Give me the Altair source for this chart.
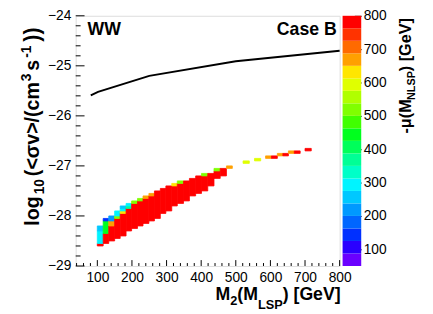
import altair as alt
import pandas as pd

FONT = "Liberation Sans"

# ---------------- data ----------------
# black curve
line_x = [81, 102, 250, 500, 800]
line_y = [-25.59, -25.52, -25.20, -24.91, -24.70]

# dense band: column edges (GeV), bottom / top of the red run (log10), coloured cells on top (mu, top)
band_edges = [99.9, 116.9, 133.0, 150.0, 166.0, 183.0, 199.0, 216.0, 232.0, 249.0, 265.0, 282.0,
              298.0, 315.0, 331.0, 349.0, 366.0, 384.0, 401.0, 419.0, 437.0, 455.0, 473.0, 490.0]
band_bottom = [-28.60, -28.55, -28.50, -28.45, -28.40, -28.30, -28.25, -28.20, -28.15, -28.10, -28.05, -27.95,
               -27.90, -27.80, -27.75, -27.70, -27.60, -27.55, -27.50, -27.40, -27.25, -27.20, -27.05]
band_red_top = [-28.55, -28.35, -28.20, -28.05, -27.95, -27.85, -27.75, -27.70, -27.65, -27.60, -27.50, -27.45,
                -27.40, -27.40, -27.35, -27.30, -27.25, -27.20, -27.20, -27.15, -27.10, -27.05, -27.05]
band_caps = [
    [(300, -28.30), (250, -28.20)],
    [(450, -28.10), (150, -28.05)],
    [(680, -28.10), (210, -28.00)],
    [(530, -28.00), (300, -27.90)],
    [(630, -27.90), (300, -27.85), (250, -27.80)],
    [(370, -27.80), (300, -27.75)],
    [(520, -27.70)],
    [(520, -27.65)],
    [(680, -27.60)],
    [(680, -27.55)],
    [], [], [],
    [(630, -27.35)],
    [(520, -27.30)],
    [], [], [],
    [(520, -27.15)],
    [],
    [(520, -27.05)],
    [],
    [(680, -27.00)],
]
RED_MU = 780

# isolated cells
sparse_x0 = [521, 554, 586, 603, 620, 636, 652, 669, 700]
sparse_x1 = [539, 572, 603, 620, 636, 652, 669, 686, 718]
sparse_y0 = [-26.95, -26.90, -26.85, -26.85, -26.80, -26.80, -26.75, -26.75, -26.70]
sparse_mu = [600, 600, 680, 780, 680, 780, 680, 780, 780]
CELL_H = 0.05

# axes
x_major = [100, 200, 300, 400, 500, 600, 700, 800]
x_minor = [40, 60, 80, 120, 140, 160, 180, 220, 240, 260, 280, 320, 340, 360, 380, 420, 440, 460, 480,
           520, 540, 560, 580, 620, 640, 660, 680, 720, 740, 760, 780]
y_major = [-29, -28, -27, -26, -25, -24]
y_minor = [-28.8, -28.6, -28.4, -28.2, -27.8, -27.6, -27.4, -27.2, -26.8, -26.6, -26.4, -26.2,
           -25.8, -25.6, -25.4, -25.2, -24.8, -24.6, -24.4, -24.2]
cb_ticks = [100, 200, 300, 400, 500, 600, 700, 800]

# colour palette (20 bands from 50 to 800)
palette = ["#6a00ff", "#2a00ff", "#0030ff", "#0066ff", "#0099ff", "#00c8ff", "#00f4ff", "#00ffc8",
           "#00ff96", "#00ff5a", "#00ff1e", "#40ff00", "#80ff00", "#b0ff00", "#e0ff00", "#ffe600",
           "#ffa000", "#ff6a00", "#ff3300", "#ff0000"]
cb_lo = [50, 87.5, 125, 162.5, 200, 237.5, 275, 312.5, 350, 387.5, 425, 462.5, 500, 537.5, 575,
         612.5, 650, 687.5, 725, 762.5]
cb_hi = [87.5, 125, 162.5, 200, 237.5, 275, 312.5, 350, 387.5, 425, 462.5, 500, 537.5, 575, 612.5,
         650, 687.5, 725, 762.5, 800]

# ---------------- build tables ----------------
rows = []
for k in range(len(band_bottom)):
    xa, xb = band_edges[k], band_edges[k + 1]
    if band_red_top[k] > band_bottom[k]:
        rows.append(dict(x0=xa, x1=xb, y0=band_bottom[k], y1=band_red_top[k], mu=RED_MU))
    lo = band_red_top[k]
    for mu, top in band_caps[k]:
        rows.append(dict(x0=xa, x1=xb, y0=lo, y1=top, mu=mu))
        lo = top
for a, b, y, m in zip(sparse_x0, sparse_x1, sparse_y0, sparse_mu):
    rows.append(dict(x0=a, x1=b, y0=y, y1=y + CELL_H, mu=m))
cells = pd.DataFrame(rows)

W_PLOT, H_PLOT = 269, 255
xs = alt.Scale(domain=[37.5, 800], nice=False, zero=False)
ys = alt.Scale(domain=[-29, -24], nice=False, zero=False)
cs = alt.Scale(type="quantize", domain=[50, 800], range=palette, nice=False)

X_AXIS = alt.Axis(values=x_major, ticks=False, domain=False, grid=False,
                  labelFont=FONT, labelFontSize=14, labelColor="black",
                  labelPadding=5, labelFlush=False, labelOverlap=False, title=None)

heat = alt.Chart(cells).mark_rect(strokeWidth=0.8).encode(
    x=alt.X("x0:Q", scale=xs, axis=X_AXIS),
    x2="x1:Q",
    y=alt.Y("y0:Q", scale=ys, axis=alt.Axis(values=y_major, ticks=False, domain=False, grid=False,
                                             labelFont=FONT, labelFontSize=14, labelColor="black",
                                             labelPadding=5, labelFlush=False, labelOverlap=False,
                                             title=None, format="d")),
    y2="y1:Q",
    color=alt.Color("mu:Q", scale=cs, legend=None),
    stroke=alt.Stroke("mu:Q", scale=cs, legend=None),
)

curve = alt.Chart(pd.DataFrame({"m": line_x, "v": line_y})).mark_line(color="black", strokeWidth=2).encode(
    x=alt.X("m:Q", scale=xs, axis=X_AXIS), y=alt.Y("v:Q", scale=ys, axis=None))

def yticks(vals, length):
    return alt.Chart(pd.DataFrame({"v": vals})).mark_rule(color="black", strokeWidth=1).encode(
        y=alt.Y("v:Q", scale=ys, axis=None), x=alt.value(0), x2=alt.value(length))

def xticks(vals, length):
    return alt.Chart(pd.DataFrame({"v": vals})).mark_rule(color="black", strokeWidth=1).encode(
        x=alt.X("v:Q", scale=xs, axis=X_AXIS), y=alt.value(H_PLOT), y2=alt.value(H_PLOT - length))

cbar = alt.Chart(pd.DataFrame({"lo": cb_lo, "hi": cb_hi})).transform_calculate(
    mid="(datum.lo + datum.hi) / 2").mark_rect().encode(
    x=alt.value(272), x2=alt.value(291),
    y=alt.Y("lo:Q", scale=alt.Scale(domain=[50, 800], nice=False, zero=False),
            axis=alt.Axis(orient="right", offset=15, values=cb_ticks, tickSize=7, tickColor="#222",
                          domain=False, grid=False, labelFont=FONT, labelFontSize=14,
                          labelColor="black", labelPadding=2, labelFlush=False,
                          labelOverlap=False, title=None)),
    y2="hi:Q",
    color=alt.Color("mid:Q", scale=cs, legend=None),
)

# ---- text helpers (layout only) ----
AW = {'M': 833, '2': 556, '(': 333, ')': 333, 'L': 611, 'S': 667, 'P': 667, ' ': 278, '[': 333, ']': 333,
      'G': 778, 'e': 556, 'V': 667, 'l': 278, 'o': 611, 'g': 611, '1': 556, '0': 556, '<': 584, '>': 584,
      'σ': 620, 'v': 556, '/': 278, 'c': 556, 'm': 889, '3': 556, 's': 556, '-': 333, 'μ': 576, 'N': 722}

def width(s, size):
    return sum(AW.get(c, 600) for c in s) * size / 1000.0

def txt(s, x, y, size, angle=0, align="left"):
    return alt.Chart(pd.DataFrame({"t": [s]})).mark_text(
        font=FONT, fontWeight="bold", fontSize=size, angle=angle, align=align,
        baseline="alphabetic", color="black").encode(
        x=alt.value(x), y=alt.value(y), text=alt.value(s))

texts = [txt("WW", 12, 20, 18), txt("Case B", 266, 20, 18, align="right")]

# x title: M_2(M_LSP) [GeV], right end at plot right edge
xpieces = [("M", 18, 0), ("2", 13, 5), ("(M", 18, 0), ("LSP", 13, 9), (") [GeV]", 18, 0)]
total = sum(width(s, z) for s, z, _ in xpieces)
cx = 270 - total
for s, z, d in xpieces:
    texts.append(txt(s, cx, 290 + d, z))
    cx += width(s, z)

# y title (rotated, reading upward): (text, size, baseline shift, gap before)
ypieces = [("log", 20, 0, 0), ("10", 14, 5, 2), ("(<σv>/(cm", 20, 0, 3), ("3", 14, -9, 2),
           ("s", 20, 0, 3), ("-1", 14, -9, 2), ("))", 22, 0, 4)]
cy = 214
for s, z, d, gap in ypieces:
    cy -= gap
    texts.append(txt(s, -37 + d, cy, z, angle=270))
    cy -= width(s, z)

# colour bar title: -mu(M_NLSP) [GeV]
cpieces = [("-μ(M", 16.5, 0), ("NLSP", 11, 4), (") [GeV]", 16.5, 0)]
cy = 120
for s, z, d in cpieces:
    texts.append(txt(s, 342 + d, cy, z, angle=270))
    cy -= width(s, z)

chart = alt.layer(
    heat, curve,
    yticks(y_major, 9), yticks(y_minor, 5), xticks(x_major, 6), xticks(x_minor, 3),
    cbar, *texts
).resolve_scale(y="independent").properties(
    width=W_PLOT, height=H_PLOT,
    autosize=alt.AutoSizeParams(type="none"),
    padding={"left": 69, "top": 5, "right": 87, "bottom": 46},
).configure_view(stroke="black", strokeWidth=1).configure(background="white")

chart.save("out.html", embed_options={"renderer": "svg", "actions": False})
